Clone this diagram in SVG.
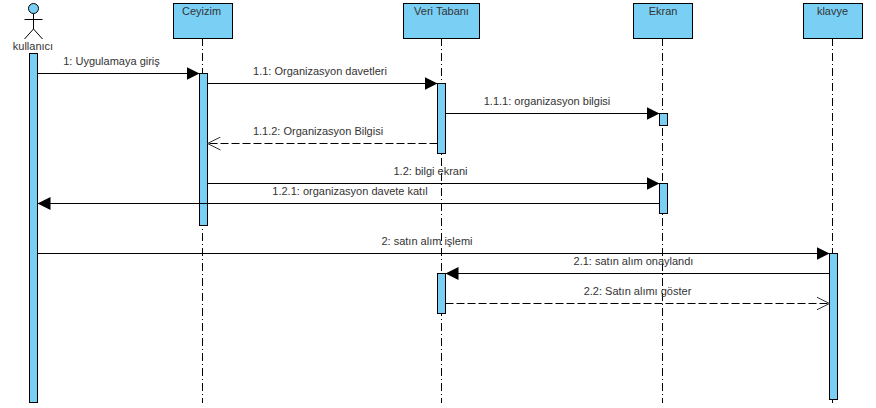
<svg xmlns="http://www.w3.org/2000/svg" width="876" height="408" viewBox="0 0 876 408">
<style>
text{font-family:"Liberation Sans",Arial,sans-serif;font-size:11px;fill:#333;text-anchor:middle}
.box,.act{fill:#7acff5;stroke:#000;stroke-width:1}
.life{stroke:#000;stroke-width:1;stroke-dasharray:8 3 1 3;fill:none}
.m{stroke:#000;stroke-width:1;fill:none}
.r{stroke:#000;stroke-width:1;fill:none;stroke-dasharray:8 3}
.fig{stroke:#000;stroke-width:1;fill:none}
</style>
<defs>
<marker id="solid" markerUnits="userSpaceOnUse" markerWidth="14" markerHeight="14" refX="13" refY="7" orient="auto"><path d="M0 0.5L13 7L0 13.5Z" fill="#000"/></marker>
<marker id="open" markerUnits="userSpaceOnUse" markerWidth="14" markerHeight="14" refX="13" refY="7" orient="auto"><path d="M0 0.5L13 7L0 13.5" fill="none" stroke="#333" stroke-width="1"/></marker>
</defs>
<g id="lifelines">
<path class="life" d="M202.500 38V403"/><path class="life" d="M441.500 38V403"/><path class="life" d="M662.500 38V403"/><path class="life" d="M832.500 38V403"/>
</g>
<g id="node-kullanici">
<circle cx="33.500" cy="8.500" r="5" fill="#7acff5" stroke="#000"/>
<path class="fig" d="M33.500 13.500V29M24.500 19.500H42.500M33.500 29L24.500 39M33.500 29L42.500 39"/>
<text x="33" y="50">kullanıcı</text>
<rect class="act" x="29.500" y="53.500" width="8" height="349"/>
</g>
<g id="node-ceyizim">
<rect class="box" x="173.500" y="3.500" width="59" height="35"/>
<text x="201.500" y="15">Ceyizim</text>
<rect class="act" x="199.500" y="73.500" width="8" height="152"/>
</g>
<g id="node-veritabani">
<rect class="box" x="403.500" y="3.500" width="76" height="35"/>
<text x="441.500" y="15">Veri Tabanı</text>
<rect class="act" x="437.500" y="83.500" width="8" height="70"/>
<rect class="act" x="437.500" y="273.500" width="8" height="40"/>
</g>
<g id="node-ekran">
<rect class="box" x="633.500" y="3.500" width="59" height="35"/>
<text x="663" y="15">Ekran</text>
<rect class="act" x="659.500" y="113.500" width="8" height="12"/>
<rect class="act" x="659.500" y="183.500" width="8" height="30"/>
</g>
<g id="node-klavye">
<rect class="box" x="803.500" y="3.500" width="59" height="35"/>
<text x="832.500" y="15">klavye</text>
<rect class="act" x="829.500" y="253.500" width="8" height="146"/>
</g>
<g id="connectors">
<path class="m" marker-end="url(#solid)" d="M37.500 73.500H199.500"/>
<path class="m" marker-end="url(#solid)" d="M207.500 83.500H437.500"/>
<path class="m" marker-end="url(#solid)" d="M445.500 113.500H659.500"/>
<path class="r" marker-end="url(#open)" d="M437.500 143.500H207.500"/>
<path class="m" marker-end="url(#solid)" d="M207.500 183.500H659.500"/>
<path class="m" marker-end="url(#solid)" d="M659.500 203.500H37.500"/>
<path class="m" marker-end="url(#solid)" d="M37.500 253.500H829.500"/>
<path class="m" marker-end="url(#solid)" d="M829.500 273.500H445.500"/>
<path class="r" marker-end="url(#open)" d="M445.500 303.500H829.500"/>
</g>
<g id="labels">
<text x="111.500" y="65">1: Uygulamaya giriş</text>
<text x="320" y="75">1.1: Organizasyon davetleri</text>
<text x="547" y="105">1.1.1: organizasyon bilgisi</text>
<text x="318" y="135">1.1.2: Organizasyon Bilgisi</text>
<text x="430.500" y="175">1.2: bilgi ekrani</text>
<text x="350" y="195">1.2.1: organizasyon davete katıl</text>
<text x="427" y="245">2: satın alım işlemi</text>
<text x="633.500" y="265">2.1: satın alım onaylandı</text>
<text x="637.500" y="295">2.2: Satın alımı göster</text>
</g>
</svg>
